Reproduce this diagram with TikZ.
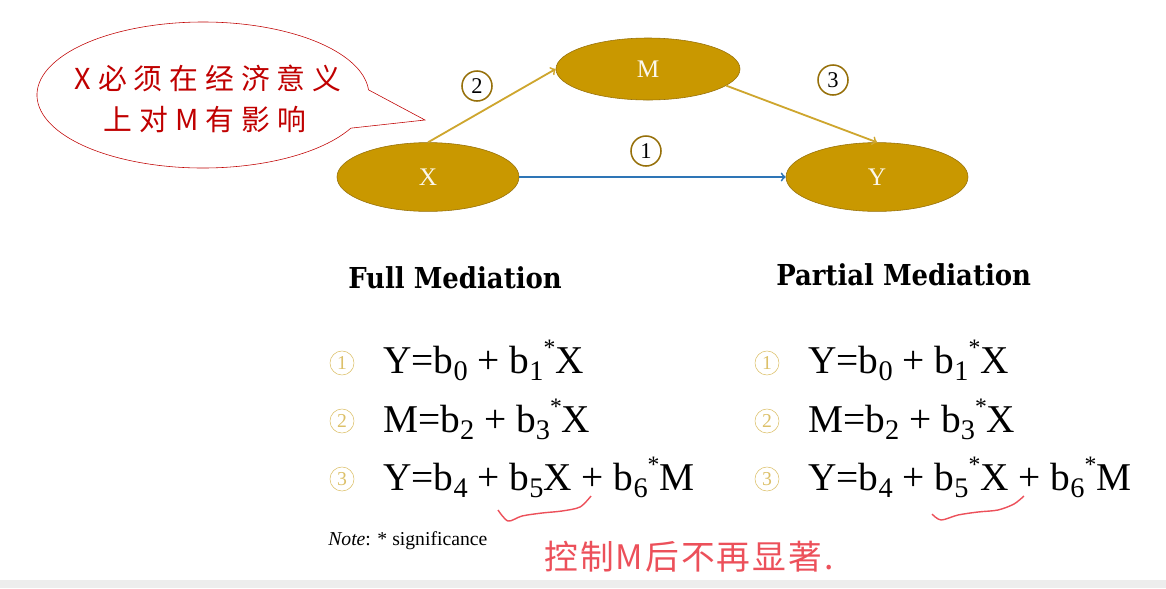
\documentclass[tikz,border=0pt]{standalone}
\usepackage{fontspec}
\setmainfont{Liberation Serif}
\newfontfamily\cjk{Noto Sans CJK SC}
\newfontfamily\titlefont{DejaVu Serif Condensed Bold}
\usetikzlibrary{shapes.geometric,calc}
\definecolor{gold}{RGB}{201,152,0}
\definecolor{golddark}{RGB}{150,112,10}
\definecolor{goldline}{RGB}{206,166,46}
\definecolor{goldlight}{RGB}{220,192,105}
\definecolor{pathblue}{RGB}{46,117,182}
\definecolor{bubblered}{RGB}{192,0,0}
\definecolor{inkred}{RGB}{236,80,90}
\newcommand{\lo}[1]{\raisebox{-0.42ex}{\scalebox{0.72}{#1}}}
\newcommand{\st}{\raisebox{0.95ex}{\scalebox{0.6}{*}}}
\begin{document}
\begin{tikzpicture}[x=0.025cm,y=-0.025cm,
  var/.style={ellipse,fill=gold,draw=golddark,minimum width=4.55cm,minimum height=1.72cm,
    text=white!92!gold,font=\fontsize{18}{18}\selectfont},
  num/.style={circle,draw=golddark,line width=1.1pt,fill=white,inner sep=0pt,
    minimum size=0.75cm,font=\fontsize{16}{16}\selectfont},
  idx/.style={circle,draw=goldlight,text=goldlight,inner sep=0pt,minimum size=0.6cm,
    font=\fontsize{14}{14}\selectfont},
  eq/.style={anchor=base west,inner sep=0pt,font=\fontsize{28}{30}\selectfont}]
  \useasboundingbox (0,0) rectangle (1166,588);
  \fill[black!7] (0,580) rectangle (1166,588);

  \node[var] (X) at (428,177) {X};
  \node[var,minimum width=4.6cm,minimum height=1.55cm] (M) at (648,69) {M};
  \node[var] (Y) at (877,177) {Y};

  \draw[->,goldline,line width=1.3pt] (X.north) -- (M.west);
  \draw[->,goldline,line width=1.3pt] (M.-12) -- (Y.north);
  \draw[->,pathblue,line width=1.3pt] (X.east) -- (Y.west);
  \node[num] (n2) at (477,86) {2};
  \node[num] (n3) at (833,80) {3};
  \node[num] (n1) at (646,151) {1};

  \coordinate (bc) at (203,95);
  \coordinate (tip) at (425,120);
  \draw[bubblered,fill=white] ($(bc)+(-4:166 and 73)$) -- (tip)
    -- ($(bc)+(27:166 and 73)$) arc[start angle=27,end angle=356,x radius=166,y radius=73] -- cycle;
  \node[bubblered,font=\cjk\fontsize{20.5}{20}\selectfont\addfontfeature{LetterSpace=24}] (b1) at (208,78) {X必须在经济意义};
  \node[bubblered,font=\cjk\fontsize{20.5}{20}\selectfont\addfontfeature{LetterSpace=24}] (b2) at (205,119) {上对M有影响};

  \node[anchor=base west,inner sep=0pt,font=\titlefont\fontsize{20.5}{20}\selectfont] (full) at (348,288) {Full Mediation};
  \node[anchor=base west,inner sep=0pt,font=\titlefont\fontsize{20.5}{20}\selectfont] (part) at (776,285) {Partial Mediation};

  \node[idx] (l1) at (342,363) {1};
  \node[idx] (l2) at (342,421) {2};
  \node[idx] (l3) at (342,479) {3};
  \node[eq] (e1) at (383,373) {Y=b\lo{0} + b\lo{1}\st X};
  \node[eq] (e2) at (383,432) {M=b\lo{2} + b\lo{3}\st X};
  \node[eq] (e3) at (383,490) {Y=b\lo{4} + b\lo{5}X + b\lo{6}\st M};

  \node[idx] (r1) at (767,363) {1};
  \node[idx] (r2) at (767,421) {2};
  \node[idx] (r3) at (767,479) {3};
  \node[eq] (f1) at (808,373) {Y=b\lo{0} + b\lo{1}\st X};
  \node[eq] (f2) at (808,432) {M=b\lo{2} + b\lo{3}\st X};
  \node[eq] (f3) at (808,490) {Y=b\lo{4} + b\lo{5}\st X + b\lo{6}\st M};

  \node[anchor=base west,inner sep=0pt,font=\fontsize{14}{14}\selectfont] (note) at (328,545) {\textit{Note}: * significance};

  \draw[inkred,line width=1pt] plot[smooth] coordinates {(498,510) (508,521) (522,516) (542,513) (562,511) (580,507) (591,496)};
  \draw[inkred,line width=1pt] plot[smooth] coordinates {(932,514) (941,520) (958,515) (978,512) (998,510) (1014,504) (1024,496)};
  \node[inkred,font=\cjk\fontsize{24}{24}\selectfont\addfontfeature{LetterSpace=6}] (hand) at (689,557) {控制M后不再显著.};
\end{tikzpicture}
\end{document}
